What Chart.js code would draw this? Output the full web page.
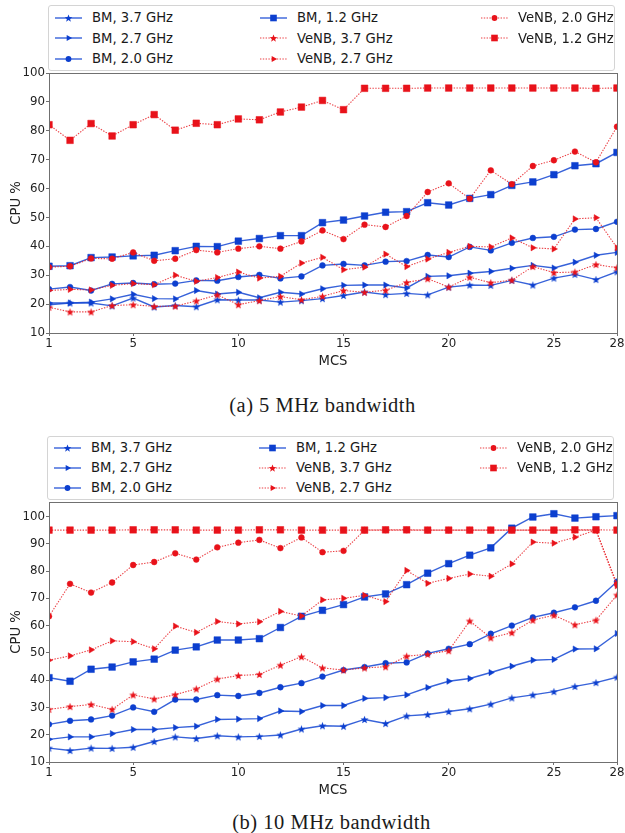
<!DOCTYPE html>
<html><head><meta charset="utf-8">
<script src="https://cdn.jsdelivr.net/npm/chart.js@4.4.1/dist/chart.umd.min.js"></script>
<style>
html,body{margin:0;padding:0;background:#fff;}
body{width:625px;height:833px;position:relative;overflow:hidden;font-family:"DejaVu Sans",sans-serif;}
.cw{position:absolute;left:0;width:625px;}
.legend{position:absolute;border:1px solid #d4d4d4;border-radius:3px;background:#fff;box-sizing:border-box;}
.li{position:absolute;height:16px;display:flex;align-items:center;font-size:13.2px;color:#1a1a1a;white-space:nowrap;}
.li svg{margin-right:10px;flex:none;}
.cap{position:absolute;width:625px;text-align:center;font-family:"Liberation Serif",serif;font-size:20.5px;line-height:24px;color:#1a1a1a;letter-spacing:0.5px;}
</style></head><body>
<div class="cw" style="top:0;height:372px"><canvas id="c1"></canvas></div>
<div class="legend" id="lg1" style="left:48px;top:5px;width:567px;height:66px"></div>
<div class="cap" id="cap1" style="top:393px;left:10px"></div>
<div class="cw" style="top:420px;height:381px"><canvas id="c2"></canvas></div>
<div class="legend" id="lg2" style="left:47px;top:436px;width:567px;height:64px"></div>
<div class="cap" id="cap2" style="top:810px;left:19px"></div>
<script>
// ---------- data ----------
const mcs = [1,2,3,4,5,6,7,8,9,10,11,12,13,14,15,16,17,18,19,20,21,22,23,24,25,26,27,28];
const xTickValues = [1,5,10,15,20,25,28];
const yTickValues = [10,20,30,40,50,60,70,80,90,100];
const seriesNames = ["BM, 3.7 GHz","BM, 2.7 GHz","BM, 2.0 GHz","BM, 1.2 GHz","VeNB, 3.7 GHz","VeNB, 2.7 GHz","VeNB, 2.0 GHz","VeNB, 1.2 GHz"];
const captions = ["(a) 5 MHz bandwidth","(b) 10 MHz bandwidth"];

// 5 MHz bandwidth
const bw5_BM37   = [19.8,20.4,20.4,19.4,22.1,19.0,19.5,19.1,21.5,21.4,21.4,20.7,21.2,21.9,23.0,24.2,23.3,23.7,23.2,25.9,26.6,26.5,28.2,26.6,29.0,30.3,28.5,31.2];
const bw5_BM27   = [20.4,20.4,20.7,21.8,23.4,21.9,21.8,24.7,23.5,24.1,22.2,24.1,23.5,25.3,26.5,26.6,26.6,25.6,29.6,29.8,30.7,31.3,32.4,33.4,32.5,34.5,36.9,37.9];
const bw5_BM20   = [25.2,25.9,24.7,27.0,27.3,26.9,27.1,28.2,28.1,29.4,30.1,28.9,29.6,33.4,33.9,33.4,34.7,34.9,37.0,36.3,39.8,38.6,41.2,42.9,43.3,45.8,46.0,48.5];
const bw5_BM12   = [33.1,33.3,36.1,36.3,36.7,36.9,38.5,40.0,39.9,41.8,42.7,43.7,43.7,48.2,49.1,50.5,51.8,52.0,55.1,54.3,56.6,57.9,61.1,62.3,64.8,67.9,68.6,72.5];
const bw5_VeNB37 = [18.9,17.3,17.3,19.5,19.8,19.2,19.3,21.1,23.2,19.8,21.2,22.6,21.5,22.7,24.7,24.1,24.8,27.5,28.8,25.9,29.3,27.4,28.3,33.0,30.9,31.1,33.7,32.6];
const bw5_VeNB27 = [24.7,25.1,24.9,26.5,27.1,26.7,30.0,27.9,29.2,31.1,29.0,29.6,34.2,36.2,31.9,32.8,37.3,33.0,35.6,37.9,40.0,39.8,42.9,39.5,39.1,49.5,49.9,39.5];
const bw5_VeNB20 = [32.8,33.1,35.8,35.7,37.9,35.0,35.7,38.7,37.9,39.2,40.0,39.2,41.7,45.5,42.5,47.5,46.7,50.5,58.8,61.8,56.5,66.3,61.5,67.8,69.8,72.8,69.1,81.4];
const bw5_VeNB12 = [82.1,76.7,82.5,78.2,82.1,85.6,80.2,82.6,82.1,84.1,83.8,86.5,88.2,90.5,87.3,94.7,94.7,94.7,94.8,94.8,94.8,94.8,94.8,94.8,94.8,94.8,94.7,94.8];

// 10 MHz bandwidth
const bw10_BM37   = [15.1,14.2,15.1,15.0,15.4,17.5,19.2,18.6,19.6,19.2,19.4,19.9,22.1,23.3,23.1,25.6,24.1,26.9,27.4,28.5,29.5,31.2,33.5,34.6,35.8,37.7,39.1,41.1];
const bw10_BM27   = [18.3,19.2,19.2,20.4,21.9,21.9,22.6,23.1,25.6,25.7,25.9,28.7,28.5,30.7,30.7,33.3,33.6,34.6,37.3,39.6,40.6,42.8,45.1,47.3,47.6,51.4,51.5,57.1];
const bw10_BM20   = [23.8,25.1,25.6,27.0,30.0,28.4,32.9,32.9,34.5,34.2,35.3,37.4,38.9,41.3,43.7,44.8,46.2,46.5,49.8,51.5,53.2,57.0,60.0,63.0,64.7,66.7,69.1,76.1];
const bw10_BM12   = [40.9,39.6,44.0,44.8,46.7,47.7,51.0,52.2,54.7,54.7,55.2,59.3,63.4,65.6,67.7,70.5,71.6,75.0,79.2,82.7,85.8,88.5,95.7,99.8,101.0,99.4,99.9,100.3];
const bw10_VeNB37 = [29.3,30.3,31.1,29.3,34.6,33.1,34.7,36.8,40.4,41.7,42.1,45.5,48.6,44.5,43.7,44.5,44.9,48.8,49.5,50.8,61.7,55.5,57.4,62.0,63.8,60.3,62.0,71.2];
const bw10_VeNB27 = [47.3,48.9,51.1,54.4,54.1,51.5,59.8,57.5,61.5,60.6,61.4,65.2,63.5,69.4,70.0,71.1,68.8,80.2,75.5,77.3,78.9,78.1,82.6,90.6,90.2,92.4,95.0,74.6];
const bw10_VeNB20 = [63.4,75.3,72.1,75.8,82.2,83.3,86.5,84.2,88.7,90.4,91.4,88.4,92.3,86.9,87.4,95.0,95.0,95.0,95.0,95.0,95.0,95.0,95.0,95.0,95.0,95.0,95.0,75.2];
const bw10_VeNB12 = [95.0,95.0,95.0,95.0,95.1,95.1,95.1,95.0,95.0,95.0,95.1,95.1,95.0,95.0,95.0,95.0,95.1,95.1,95.0,95.0,95.0,95.0,95.0,95.0,95.0,95.1,95.1,95.0];

document.getElementById('cap1').textContent = captions[0];
document.getElementById('cap2').textContent = captions[1];

// ---------- styling ----------
const BLUE = '#0c3fcf', BLUE_LINE = 'rgba(20,70,210,0.85)';
const RED = '#e8121a', RED_LINE = 'rgba(232,30,36,0.85)';
const shapes = ['star','tri','circle','square','star','tri','circle','square'];

function starCanvas(color, r) {
  const s = Math.ceil(r * 2) + 2;
  const c = document.createElement('canvas');
  c.width = s; c.height = s;
  const g = c.getContext('2d');
  g.fillStyle = color;
  g.beginPath();
  for (let i = 0; i < 10; i++) {
    const rr = i % 2 === 0 ? r : r * 0.42;
    const a = -Math.PI / 2 + i * Math.PI / 5;
    const x = s / 2 + rr * Math.cos(a), y = s / 2 + 0.4 + rr * Math.sin(a);
    if (i === 0) g.moveTo(x, y); else g.lineTo(x, y);
  }
  g.closePath(); g.fill();
  return c;
}
const starBlue = starCanvas(BLUE, 4.2), starRed = starCanvas(RED, 4.2);

function makeDataset(i, data) {
  const isBM = i < 4;
  const color = isBM ? BLUE : RED;
  const sh = shapes[i];
  let pointStyle = 'circle', radius = 2.9, rot = 0;
  if (sh === 'star') { pointStyle = isBM ? starBlue : starRed; radius = 4; }
  if (sh === 'tri') { pointStyle = 'triangle'; radius = 3.6; rot = 90; }
  if (sh === 'square') { pointStyle = 'rect'; radius = 4.7; }
  return {
    label: seriesNames[i],
    data: data,
    borderColor: isBM ? BLUE_LINE : RED_LINE,
    borderWidth: isBM ? 1.4 : 1.1,
    borderDash: isBM ? [] : [1.4, 1.4],
    backgroundColor: color,
    pointBackgroundColor: color,
    pointBorderColor: color,
    pointBorderWidth: 0.5,
    pointStyle: pointStyle,
    pointRadius: radius,
    pointRotation: rot,
    tension: 0,
    fill: false,
    order: 8 - i
  };
}

const boxPlugin = {
  id: 'box',
  afterDatasetsDraw(chart) {
    const a = chart.chartArea, g = chart.ctx;
    g.save();
    g.strokeStyle = '#707070';
    g.lineWidth = 1;
    g.strokeRect(Math.round(a.left) + 0.5, Math.round(a.top) + 0.5, Math.round(a.right - a.left), Math.round(a.bottom - a.top));
    g.restore();
  }
};

function makeChart(id, sets, yMax, padTop) {
  const datasets = sets.map((d, i) => makeDataset(i, d));
  return new Chart(document.getElementById(id), {
    type: 'line',
    data: { labels: mcs, datasets: datasets },
    plugins: [boxPlugin],
    options: {
      responsive: true,
      maintainAspectRatio: false,
      animation: false,
      events: [],
      layout: { padding: { top: padTop, right: 8, left: 5, bottom: 0 } },
      plugins: { legend: { display: false }, tooltip: { enabled: false } },
      scales: {
        x: {
          type: 'linear', min: 1, max: 28,
          afterBuildTicks: s => { s.ticks = xTickValues.map(v => ({ value: v })); },
          afterFit: s => { s.height = 39; s.paddingLeft = 0; s.paddingRight = 0; },
          grid: { drawOnChartArea: false, drawTicks: true, tickLength: 3, color: '#707070' },
          border: { display: false },
          ticks: { autoSkip: false, maxRotation: 0, padding: 1, color: '#222', font: { family: 'DejaVu Sans', size: 11.8 } },
          title: { display: true, text: 'MCS', color: '#222', font: { family: 'DejaVu Sans', size: 13.2 }, padding: { top: 2, bottom: 3 } }
        },
        y: {
          type: 'linear', min: 10, max: yMax,
          afterBuildTicks: s => { s.ticks = yTickValues.map(v => ({ value: v })); },
          afterFit: s => { s.width = 44; },
          grid: { drawOnChartArea: false, drawTicks: true, tickLength: 3, color: '#707070' },
          border: { display: false },
          ticks: { padding: 1, color: '#222', font: { family: 'DejaVu Sans', size: 11.8 } },
          title: { display: true, text: 'CPU %', color: '#222', font: { family: 'DejaVu Sans', size: 13.2 }, padding: { top: 4, bottom: 4 } }
        }
      }
    }
  });
}

makeChart('c1', [bw5_BM37, bw5_BM27, bw5_BM20, bw5_BM12, bw5_VeNB37, bw5_VeNB27, bw5_VeNB20, bw5_VeNB12], 100, 73);
makeChart('c2', [bw10_BM37, bw10_BM27, bw10_BM20, bw10_BM12, bw10_VeNB37, bw10_VeNB27, bw10_VeNB20, bw10_VeNB12], 105.3, 82);

// ---------- HTML legends (column-major, 3 columns) ----------
function markerSVG(i) {
  const isBM = i < 4, c = isBM ? BLUE : RED, lc = isBM ? BLUE_LINE : RED_LINE;
  const dash = isBM ? '' : 'stroke-dasharray="1.4 1.4"';
  let m = '';
  const cx = 13.5, cy = 6;
  switch (shapes[i]) {
    case 'star': {
      let p = [];
      for (let k = 0; k < 10; k++) {
        const rr = k % 2 === 0 ? 4 : 1.7, a = -Math.PI / 2 + k * Math.PI / 5;
        p.push((cx + rr * Math.cos(a)).toFixed(2) + ',' + (cy + 0.4 + rr * Math.sin(a)).toFixed(2));
      }
      m = `<polygon points="${p.join(' ')}" fill="${c}"/>`; break;
    }
    case 'tri': m = `<polygon points="${cx + 3.6},${cy} ${cx - 1.8},${cy - 3.1} ${cx - 1.8},${cy + 3.1}" fill="${c}"/>`; break;
    case 'circle': m = `<circle cx="${cx}" cy="${cy}" r="2.9" fill="${c}"/>`; break;
    case 'square': m = `<rect x="${cx - 3.3}" y="${cy - 3.3}" width="6.6" height="6.6" fill="${c}"/>`; break;
  }
  return `<svg width="27" height="12" viewBox="0 0 27 12"><line x1="0" y1="6" x2="27" y2="6" stroke="${lc}" stroke-width="${isBM ? 1.4 : 1.1}" ${dash}/>${m}</svg>`;
}
function buildLegend(id, rowTops) {
  const el = document.getElementById(id);
  const colX = [6, 211, 432];
  seriesNames.forEach((name, i) => {
    const col = Math.floor(i / 3), row = i % 3;
    const d = document.createElement('div');
    d.className = 'li';
    d.style.left = colX[col] + 'px';
    d.style.top = rowTops[row] + 'px';
    d.innerHTML = markerSVG(i) + '<span>' + name + '</span>';
    el.appendChild(d);
  });
}
buildLegend('lg1', [3.5, 24, 44.5]);
buildLegend('lg2', [2.5, 22.5, 42.5]);
</script>
</body></html>
